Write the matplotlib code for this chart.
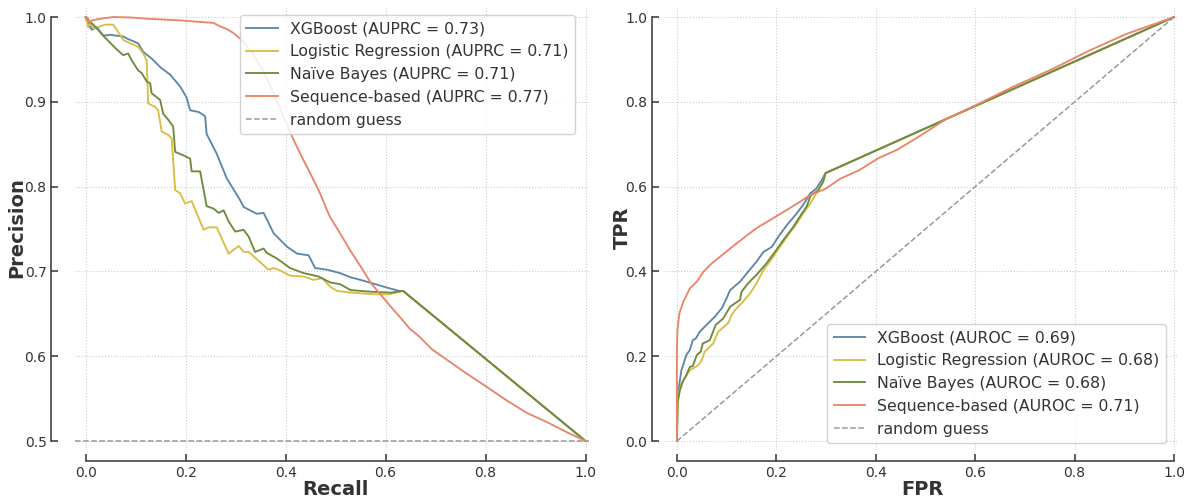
import numpy as np
import matplotlib
matplotlib.use("Agg")
import matplotlib.pyplot as plt

# colours
c_xgb = "#5d87a8"
c_lr = "#dcbc44"
c_nb = "#6e8b3d"
c_seq = "#e8866a"
c_rand = "#999999"

# precision-recall curves
xgb_recall = [0, 0.003, 0.012, 0.022, 0.035, 0.049, 0.075, 0.085, 0.105, 0.115, 0.132, 0.149, 0.169,
              0.189, 0.202, 0.209, 0.226, 0.239, 0.242, 0.262, 0.282, 0.309, 0.316, 0.342, 0.356, 0.376,
              0.403, 0.423, 0.446, 0.459, 0.483, 0.509, 0.530, 0.550, 0.591, 0.608, 0.628, 0.635, 1.0]
xgb_precision = [1.0, 0.995, 0.985, 0.988, 0.978, 0.979, 0.977, 0.974, 0.969, 0.959, 0.951, 0.941, 0.932,
                 0.918, 0.905, 0.890, 0.888, 0.883, 0.862, 0.839, 0.810, 0.784, 0.776, 0.768, 0.769, 0.745,
                 0.729, 0.721, 0.719, 0.704, 0.702, 0.698, 0.693, 0.690, 0.683, 0.680, 0.677, 0.677, 0.5]

lr_recall = [0, 0.005, 0.009, 0.015, 0.025, 0.039, 0.055, 0.062, 0.075, 0.089, 0.105, 0.115, 0.122, 0.125,
             0.139, 0.145, 0.152, 0.165, 0.172, 0.179, 0.189, 0.199, 0.212, 0.236, 0.246, 0.262, 0.286,
             0.306, 0.316, 0.326, 0.366, 0.376, 0.386, 0.409, 0.436, 0.456, 0.473, 0.489, 0.503, 0.530,
             0.578, 0.608, 0.620, 0.635, 1.0]
lr_precision = [1.0, 0.988, 0.993, 0.987, 0.988, 0.991, 0.991, 0.985, 0.973, 0.969, 0.965, 0.957, 0.949, 0.898,
                0.894, 0.890, 0.865, 0.861, 0.857, 0.796, 0.792, 0.780, 0.783, 0.749, 0.752, 0.752, 0.721,
                0.730, 0.723, 0.723, 0.702, 0.704, 0.702, 0.695, 0.694, 0.690, 0.692, 0.682, 0.677, 0.675,
                0.673, 0.673, 0.675, 0.677, 0.5]

nb_recall = [0, 0.02, 0.04, 0.06, 0.075, 0.085, 0.092, 0.105, 0.112, 0.122, 0.129, 0.132, 0.145, 0.149,
             0.155, 0.165, 0.175, 0.179, 0.195, 0.209, 0.212, 0.229, 0.242, 0.256, 0.266, 0.276, 0.286,
             0.299, 0.316, 0.326, 0.339, 0.356, 0.362, 0.383, 0.409, 0.436, 0.466, 0.489, 0.509, 0.530,
             0.571, 0.611, 0.635, 1.0]
nb_precision = [1.0, 0.988, 0.975, 0.963, 0.955, 0.957, 0.949, 0.937, 0.934, 0.924, 0.922, 0.910, 0.904, 0.902,
                0.886, 0.879, 0.871, 0.841, 0.837, 0.833, 0.818, 0.818, 0.777, 0.774, 0.769, 0.772, 0.759,
                0.747, 0.749, 0.741, 0.723, 0.727, 0.722, 0.715, 0.704, 0.698, 0.694, 0.687, 0.685, 0.678,
                0.676, 0.675, 0.677, 0.5]

seq_recall = [0, 0.004, 0.009, 0.012, 0.03, 0.055, 0.089, 0.122, 0.189, 0.256, 0.269, 0.282, 0.296, 0.316,
              0.336, 0.356, 0.376, 0.396, 0.413, 0.429, 0.449, 0.469, 0.483, 0.489, 0.510, 0.530, 0.550,
              0.571, 0.591, 0.611, 0.632, 0.649, 0.666, 0.693, 0.727, 0.761, 0.802, 0.842, 0.883, 0.924,
              0.964, 1.0]
seq_precision = [1.0, 0.999, 0.993, 0.996, 0.998, 1.0, 0.9995, 0.998, 0.996, 0.993, 0.989, 0.986, 0.981, 0.971,
                 0.955, 0.936, 0.910, 0.882, 0.859, 0.839, 0.816, 0.792, 0.772, 0.764, 0.744, 0.724, 0.706,
                 0.686, 0.672, 0.658, 0.644, 0.632, 0.624, 0.608, 0.594, 0.580, 0.564, 0.548, 0.533, 0.522,
                 0.510, 0.5]

# ROC curves
xgb_fpr = [0, 0.001, 0.003, 0.009, 0.019, 0.026, 0.032, 0.038, 0.046, 0.063, 0.076, 0.090, 0.097, 0.107,
           0.127, 0.143, 0.160, 0.174, 0.191, 0.204, 0.221, 0.241, 0.254, 0.268, 0.280, 0.291, 0.299, 1.0]
xgb_tpr = [0, 0.06, 0.120, 0.167, 0.203, 0.215, 0.238, 0.242, 0.258, 0.278, 0.293, 0.313, 0.329, 0.356,
           0.376, 0.399, 0.423, 0.446, 0.458, 0.482, 0.509, 0.537, 0.557, 0.584, 0.595, 0.615, 0.632, 1.0]

lr_fpr = [0, 0.001, 0.003, 0.009, 0.016, 0.026, 0.043, 0.050, 0.056, 0.073, 0.083, 0.103, 0.110, 0.117,
          0.130, 0.147, 0.160, 0.174, 0.194, 0.207, 0.224, 0.241, 0.254, 0.268, 0.280, 0.295, 0.299, 1.0]
lr_tpr = [0, 0.07, 0.112, 0.136, 0.148, 0.167, 0.179, 0.191, 0.211, 0.230, 0.258, 0.278, 0.297, 0.309,
          0.325, 0.348, 0.372, 0.403, 0.435, 0.458, 0.486, 0.513, 0.537, 0.560, 0.583, 0.615, 0.632, 1.0]

nb_fpr = [0, 0.001, 0.006, 0.013, 0.019, 0.026, 0.032, 0.040, 0.048, 0.052, 0.066, 0.078, 0.093, 0.107,
          0.127, 0.130, 0.143, 0.160, 0.180, 0.197, 0.214, 0.234, 0.247, 0.261, 0.269, 0.284, 0.294, 0.299, 1.0]
nb_tpr = [0, 0.089, 0.120, 0.144, 0.156, 0.175, 0.177, 0.203, 0.211, 0.230, 0.238, 0.274, 0.289, 0.317,
          0.333, 0.352, 0.372, 0.392, 0.419, 0.446, 0.474, 0.505, 0.529, 0.553, 0.579, 0.591, 0.611, 0.632, 1.0]

seq_fpr = [0, 0.0, 0.001, 0.005, 0.013, 0.026, 0.040, 0.053, 0.070, 0.087, 0.107, 0.133, 0.160, 0.187,
           0.221, 0.247, 0.268, 0.299, 0.329, 0.367, 0.405, 0.443, 0.488, 0.541, 0.601, 0.677, 0.753,
           0.828, 0.904, 1.0]
seq_tpr = [0, 0.215, 0.262, 0.301, 0.329, 0.360, 0.376, 0.399, 0.419, 0.435, 0.454, 0.478, 0.502, 0.521,
           0.545, 0.564, 0.580, 0.595, 0.619, 0.639, 0.667, 0.687, 0.719, 0.759, 0.792, 0.836, 0.876,
           0.920, 0.960, 1.0]

auprc = {"xgb": 0.73, "lr": 0.71, "nb": 0.71, "seq": 0.77}
auroc = {"xgb": 0.69, "lr": 0.68, "nb": 0.68, "seq": 0.71}

plt.rcParams["font.family"] = ["DejaVu Sans"]
text_color = "#333333"

W, H = 1192, 499
fig = plt.figure(figsize=(W / 100, H / 100), dpi=100)
ax1 = fig.add_axes([75 / W, (H - 450) / H, 514 / W, 444 / H])
ax2 = fig.add_axes([663 / W, (H - 450) / H, 514 / W, 444 / H])


def style_axes(ax, left_offset, ybounds):
    ax.spines["top"].set_visible(False)
    ax.spines["right"].set_visible(False)
    ax.spines["left"].set_position(("outward", left_offset))
    ax.spines["bottom"].set_position(("outward", 8))
    ax.spines["left"].set_bounds(*ybounds)
    ax.spines["bottom"].set_bounds(0, 1)
    for s in ("left", "bottom"):
        ax.spines[s].set_color(text_color)
        ax.spines[s].set_linewidth(1.1)
    ax.tick_params(direction="in", length=5, width=1.1, colors=text_color,
                   labelsize=10, labelcolor=text_color)
    ax.grid(True, linestyle=":", color="#cccccc", linewidth=0.8)
    ax.set_axisbelow(True)


def add_labels(ax, xlabel, ylabel, xpos, ypos):
    ax.set_xlabel(xlabel, fontsize=14, fontweight="bold", color=text_color)
    ax.set_ylabel(ylabel, fontsize=14, fontweight="bold", color=text_color)
    ax.xaxis.label.set_va("center")
    ax.yaxis.label.set_va("center")
    ax.xaxis.set_label_coords(*xpos)
    ax.yaxis.set_label_coords(*ypos)


def add_legend(ax, loc, anchor):
    leg = ax.legend(loc=loc, bbox_to_anchor=anchor, borderaxespad=0, fontsize=11.3,
                    labelspacing=0.5, borderpad=0.4, handlelength=2.0, handletextpad=0.8,
                    frameon=True, fancybox=True, framealpha=0.85, edgecolor="#cccccc")
    for t in leg.get_texts():
        t.set_color(text_color)


lw = 1.35

# --- precision-recall ---
ax1.plot(xgb_recall, xgb_precision, color=c_xgb, lw=lw, label="XGBoost (AUPRC = %.2f)" % auprc["xgb"])
ax1.plot(lr_recall, lr_precision, color=c_lr, lw=lw, label="Logistic Regression (AUPRC = %.2f)" % auprc["lr"])
ax1.plot(nb_recall, nb_precision, color=c_nb, lw=lw, label="Naïve Bayes (AUPRC = %.2f)" % auprc["nb"])
ax1.plot(seq_recall, seq_precision, color=c_seq, lw=lw, label="Sequence-based (AUPRC = %.2f)" % auprc["seq"])
ax1.axhline(0.5, color=c_rand, ls="--", lw=1.1, label="random guess")
ax1.set_xlim(-0.0214, 1.007)
ax1.set_ylim(0.4894, 1.013)
ax1.set_xticks(np.arange(0, 1.01, 0.2))
ax1.set_yticks(np.arange(0.5, 1.01, 0.1))
style_axes(ax1, 17, (0.5, 1.0))
add_labels(ax1, "Recall", "Precision", (0.506, -0.088), (-0.113, 0.5))
add_legend(ax1, "upper right", (0.973, 0.98))

# --- ROC ---
ax2.plot(xgb_fpr, xgb_tpr, color=c_xgb, lw=lw, label="XGBoost (AUROC = %.2f)" % auroc["xgb"])
ax2.plot(lr_fpr, lr_tpr, color=c_lr, lw=lw, label="Logistic Regression (AUROC = %.2f)" % auroc["lr"])
ax2.plot(nb_fpr, nb_tpr, color=c_nb, lw=lw, label="Naïve Bayes (AUROC = %.2f)" % auroc["nb"])
ax2.plot(seq_fpr, seq_tpr, color=c_seq, lw=lw, label="Sequence-based (AUROC = %.2f)" % auroc["seq"])
ax2.plot([0, 1], [0, 1], color=c_rand, ls="--", lw=1.1, label="random guess")
ax2.set_xlim(-0.028, 1.006)
ax2.set_ylim(-0.021, 1.026)
ax2.set_xticks(np.arange(0, 1.01, 0.2))
ax2.set_yticks(np.arange(0, 1.01, 0.2))
style_axes(ax2, 8, (0, 1.0))
add_labels(ax2, "FPR", "TPR", (0.504, -0.088), (-0.080, 0.5))
add_legend(ax2, "lower right", (0.9786, 0.016))

fig.savefig("out.png", dpi=100)
